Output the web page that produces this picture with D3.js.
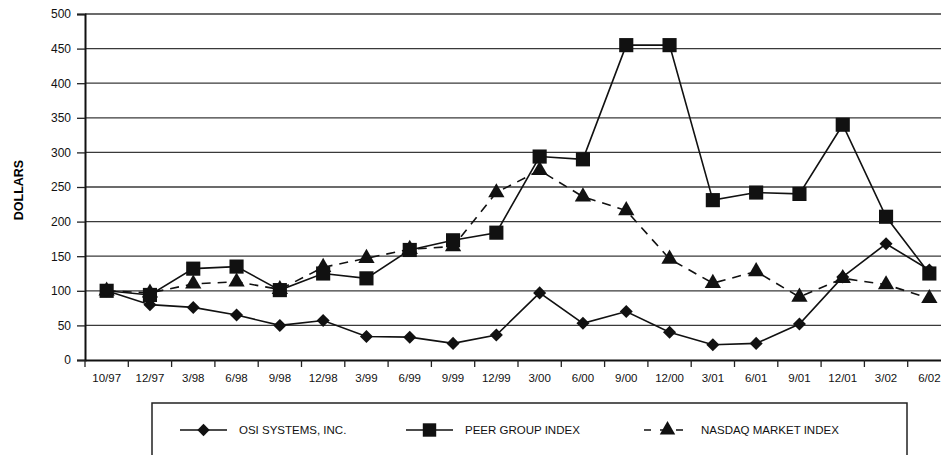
<!DOCTYPE html>
<html>
  <head>
    <script src="https://cdn.jsdelivr.net/npm/d3@7/dist/d3.min.js"></script>
    <style>
      body { margin: 0; background: #fff; }
      text { font-family: "Liberation Sans", Arial, sans-serif; }
    </style>
  </head>
  <body>
    <svg width="941" height="455" id="mainsvg"></svg>
    <script>
      const quarters = ['10/97','12/97','3/98','6/98','9/98','12/98','3/99','6/99','9/99','12/99',
                        '3/00','6/00','9/00','12/00','3/01','6/01','9/01','12/01','3/02','6/02'];
      const osi    = [100, 80, 76, 65, 50, 57, 34, 33, 24, 36, 97, 53, 70, 40, 22, 24, 52, 120, 168, 130];
      const peer   = [100, 94, 132, 135, 101, 125, 118, 159, 173, 184, 294, 290, 455, 455, 231, 242, 240, 340, 207, 125];
      const nasdaq = [100, 97, 110, 113, 102, 134, 147, 160, 164, 242, 274, 236, 216, 146, 111, 128, 91, 118, 109, 89];
      const yTicks = [0, 50, 100, 150, 200, 250, 300, 350, 400, 450, 500];

      const svg = d3.select('#mainsvg');
      const x0 = 85, x1 = 951, yTop = 14, yBot = 360;

      const xScale = d3.scaleBand().domain(quarters).range([x0, x1]);
      const yScale = d3.scaleLinear().domain([0, 500]).range([yBot, yTop]);
      const cx = d => xScale(d) + xScale.bandwidth() / 2;

      // grid
      svg.append('g').selectAll('line').data(yTicks.filter(d => d > 0)).join('line')
        .attr('x1', x0).attr('x2', 941)
        .attr('y1', d => yScale(d)).attr('y2', d => yScale(d))
        .attr('stroke', '#3a3a3a').attr('stroke-width', 1.3);

      // y axis
      const yAxis = svg.append('g').attr('transform', `translate(${x0},0)`)
        .call(d3.axisLeft(yScale).tickValues(yTicks).tickSize(8).tickPadding(6));
      yAxis.select('.domain').attr('stroke', '#111').attr('stroke-width', 2);
      yAxis.selectAll('.tick line').attr('stroke', '#222').attr('stroke-width', 1.3);
      yAxis.selectAll('text').attr('font-size', 12).attr('fill', '#111');

      // x axis
      const xAxis = svg.append('g').attr('transform', `translate(0,${yBot})`)
        .call(d3.axisBottom(xScale).tickSize(0).tickPadding(14));
      xAxis.select('.domain').attr('stroke', '#111').attr('stroke-width', 2);
      xAxis.selectAll('text').attr('font-size', 11.5).attr('fill', '#111');
      svg.append('g').selectAll('line').data(quarters).join('line')
        .attr('x1', d => xScale(d)).attr('x2', d => xScale(d))
        .attr('y1', yBot).attr('y2', yBot + 7)
        .attr('stroke', '#222').attr('stroke-width', 1.3);

      svg.append('text')
        .attr('transform', `translate(23,190) rotate(-90)`)
        .attr('text-anchor', 'middle')
        .attr('font-size', 12.5).attr('font-weight', 'bold')
        .text('DOLLARS');

      const line = d3.line().x((d, i) => cx(quarters[i])).y(d => yScale(d));
      const series = [
        {name: 'NASDAQ MARKET INDEX', values: nasdaq, dash: '9,7', sym: d3.symbolTriangle, size: 115, rot: 0},
        {name: 'PEER GROUP INDEX', values: peer, dash: null, sym: d3.symbolSquare, size: 200, rot: 0},
        {name: 'OSI SYSTEMS, INC.', values: osi, dash: null, sym: d3.symbolSquare, size: 85, rot: 45}
      ];

      series.forEach(s => {
        svg.append('path').datum(s.values)
          .attr('d', line).attr('fill', 'none')
          .attr('stroke', '#111').attr('stroke-width', 1.6)
          .attr('stroke-dasharray', s.dash);
        svg.append('g').selectAll('path').data(s.values).join('path')
          .attr('d', d3.symbol().type(s.sym).size(s.size))
          .attr('transform', (d, i) => `translate(${cx(quarters[i])},${yScale(d)}) rotate(${s.rot})`)
          .attr('fill', '#111');
      });

      // legend
      const lg = svg.append('g');
      lg.append('rect').attr('x', 152).attr('y', 403).attr('width', 755).attr('height', 60)
        .attr('fill', 'none').attr('stroke', '#222').attr('stroke-width', 1.5);
      const items = [
        {s: series[2], lx: 180, tx: 239},
        {s: series[1], lx: 406, tx: 465},
        {s: series[0], lx: 644, tx: 701}
      ];
      items.forEach(it => {
        lg.append('line').attr('x1', it.lx).attr('x2', it.lx + 47)
          .attr('y1', 430).attr('y2', 430)
          .attr('stroke', '#111').attr('stroke-width', 1.6)
          .attr('stroke-dasharray', it.s.dash ? '7,9' : null);
        lg.append('path').attr('d', d3.symbol().type(it.s.sym).size(it.s.size * 0.9))
          .attr('transform', `translate(${it.lx + 23.5},430) rotate(${it.s.rot})`).attr('fill', '#111');
        lg.append('text').attr('x', it.tx).attr('y', 434)
          .attr('font-size', 11.5).attr('fill', '#111').text(it.s.name);
      });
    </script>
  </body>
</html>
